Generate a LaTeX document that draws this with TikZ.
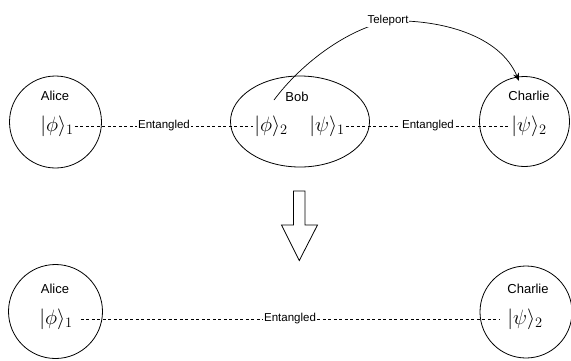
\documentclass[tikz,border=0pt]{standalone}
\usepackage{fontspec}
\setmainfont{Liberation Sans}
\usetikzlibrary{arrows.meta,shapes.geometric}
\begin{document}
\begin{tikzpicture}[x=1pt,y=-1pt,
  party/.style={draw, line width=0.8pt, circle, minimum size=#1, inner sep=0pt},
  who/.style={font=\fontsize{13}{15}\selectfont, inner sep=0pt},
  ket/.style={font=\fontsize{20.74}{24}\selectfont, inner sep=1pt},
  ent/.style={line width=0.6pt, dash pattern=on 3pt off 2.5pt},
  lbl/.style={font=\fontsize{11.5}{13}\selectfont, fill=white, inner sep=1pt},
  blockarrow/.style={draw, line width=0.8pt, fill=white}]
\useasboundingbox (0,0) rectangle (571,360);
% top row
\node[party=92pt] (alice) at (55.5,122) {};
\node[who] (aliceT) at (55,96) {Alice};
\node[ket] (phi1) at (57,126) {$|\phi\rangle_1$};
\node[draw, line width=0.8pt, ellipse, minimum width=139pt, minimum height=91pt, inner sep=0pt] (bob) at (300,121.5) {};
\node[who] (bobT) at (297,97) {Bob};
\node[ket] (phi2) at (271,126) {$|\phi\rangle_2$};
\node[ket] (psi1) at (327,126) {$|\psi\rangle_1$};
\node[party=90pt] (charlie) at (524.5,121.5) {};
\node[who] (charlieT) at (529,96) {Charlie};
\node[ket] (psi2) at (529,126) {$|\psi\rangle_2$};
\draw[ent] (phi1.east) -- node[lbl] {Entangled} (phi2.west);
\draw[ent] (psi1.east) -- node[lbl] {Entangled} (psi2.west);
\coordinate (tstart) at (274,100);
\coordinate (tend) at (519,81);
\draw[line width=0.7pt, -{Stealth[length=8pt,width=6pt]}] (tstart) .. controls (300,65) and (345,30) .. (388,21) coordinate (tmid) .. controls (440,19) and (500,35) .. (tend);
\node[lbl] (tele) at (tmid) {Teleport};
% block arrow
\draw[blockarrow] (293.5,191) -- (305,191) -- (305,225) -- (317.5,225) -- (299.3,260.5) -- (281.5,225) -- (293.5,225) -- cycle;
% bottom row
\node[party=94pt] (alice2) at (55.5,311.5) {};
\node[who] (alice2T) at (55,289) {Alice};
\node[ket] (phi1b) at (56,319) {$|\phi\rangle_1$};
\node[party=92pt] (charlie2) at (526,312) {};
\node[who] (charlie2T) at (528,289) {Charlie};
\node[ket] (psi2b) at (525,319) {$|\psi\rangle_2$};
\draw[ent, shorten <=7pt, shorten >=7pt] (phi1b.east) -- node[lbl] {Entangled} (psi2b.west);
\end{tikzpicture}
\end{document}
